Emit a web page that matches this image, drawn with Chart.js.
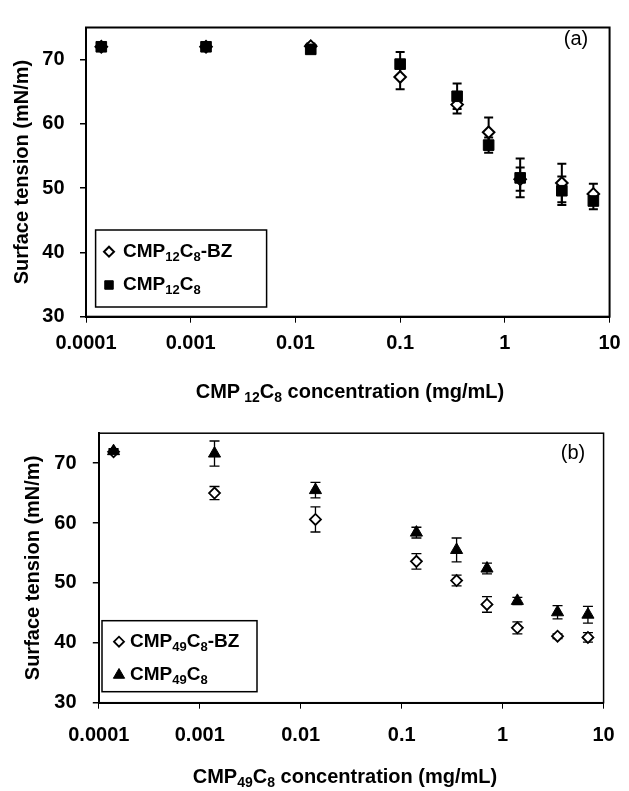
<!DOCTYPE html>
<html>
<head>
<meta charset="utf-8">
<script src="https://cdn.jsdelivr.net/npm/chart.js@4.4.1/dist/chart.umd.min.js"></script>
<style>
  body { margin: 0; background: #fff; }
  canvas { display: block; }
</style>
</head>
<body>
<canvas id="chart-a" width="629" height="405"></canvas>
<canvas id="chart-b" width="629" height="386"></canvas>
<script>
// panel (a) - CMP12C8
const concA = [0.00014, 0.0014, 0.014, 0.1, 0.35, 0.7, 1.4, 3.5, 7];
const bz12 = [72.0, 72.0, 72.1, 67.3, 63.0, 58.7, 51.4, 50.8, 49.1];
const bz12Err = [0.4, 0.4, 0.4, 1.9, 1.4, 2.3, 1.8, 3.0, 1.6];
const cmp12 = [72.0, 72.0, 71.6, 69.3, 64.3, 56.7, 51.6, 49.6, 48.0];
const cmp12Err = [0.4, 0.4, 0.4, 1.9, 2.0, 1.2, 3.0, 2.2, 1.3];

// panel (b) - CMP49C8
const concB = [0.00014, 0.0014, 0.014, 0.14, 0.35, 0.7, 1.4, 3.5, 7];
const bz49 = [71.9, 65.0, 60.6, 53.6, 50.4, 46.4, 42.5, 41.1, 40.9];
const bz49Err = [0.4, 1.1, 2.1, 1.3, 0.9, 1.3, 1.0, 0.4, 0.8];
const cmp49 = [72.0, 71.6, 65.5, 58.4, 55.5, 52.4, 47.0, 45.1, 44.7];
const cmp49Err = [0.4, 2.1, 1.3, 0.9, 2.0, 0.9, 0.6, 1.1, 1.4];

const xTicks = [0.0001, 0.001, 0.01, 0.1, 1, 10];
const xTickLabels = ['0.0001', '0.001', '0.01', '0.1', '1', '10'];
const yTicks = [30, 40, 50, 60, 70];

const FONT = "'Liberation Sans', Arial, sans-serif";

function points(xs, ys) {
    return xs.map((x, i) => ({ x: x, y: ys[i] }));
}

// error bars under the markers
const errorBars = {
    id: 'errorBars',
    beforeDatasetsDraw(chart, args, opts) {
        const ctx = chart.ctx;
        const y = chart.scales.y;
        ctx.save();
        ctx.strokeStyle = '#000';
        ctx.lineWidth = opts.width;
        chart.data.datasets.forEach((ds, i) => {
            const meta = chart.getDatasetMeta(i);
            meta.data.forEach((pt, j) => {
                const v = ds.data[j].y, e = ds.errors[j];
                const top = y.getPixelForValue(v + e);
                const bot = y.getPixelForValue(v - e);
                ctx.beginPath();
                ctx.moveTo(pt.x, top); ctx.lineTo(pt.x, bot);
                ctx.moveTo(pt.x - opts.cap, top); ctx.lineTo(pt.x + opts.cap, top);
                ctx.moveTo(pt.x - opts.cap, bot); ctx.lineTo(pt.x + opts.cap, bot);
                ctx.stroke();
            });
        });
        ctx.restore();
    }
};

// text with _{sub} parts
function richWidth(ctx, str, size) {
    let w = 0;
    str.split(/(_\{[^}]*\})/).filter(s => s).forEach(p => {
        const sub = p.startsWith('_{');
        const t = sub ? p.slice(2, -1) : p;
        ctx.font = 'bold ' + (sub ? Math.round(size * 0.68) : size) + 'px ' + FONT;
        w += ctx.measureText(t).width;
    });
    return w;
}

function richText(ctx, str, x, y, size) {
    const parts = str.split(/(_\{[^}]*\})/).filter(s => s);
    parts.forEach(p => {
        const sub = p.startsWith('_{');
        const t = sub ? p.slice(2, -1) : p;
        ctx.font = 'bold ' + (sub ? Math.round(size * 0.68) : size) + 'px ' + FONT;
        ctx.fillText(t, x, sub ? y + size * 0.3 : y);
        x += ctx.measureText(t).width;
    });
}

const panelDecor = {
    id: 'panelDecor',
    afterDraw(chart, args, opts) {
        const ctx = chart.ctx;
        const a = chart.chartArea;
        ctx.save();
        ctx.strokeStyle = '#000';
        ctx.lineWidth = opts.frame;
        ctx.strokeRect(a.left, a.top, a.right - a.left, a.bottom - a.top);

        // panel letter
        ctx.fillStyle = '#000';
        ctx.font = '20px ' + FONT;
        ctx.textAlign = 'center';
        ctx.textBaseline = 'middle';
        ctx.fillText(opts.letter, opts.letterX, opts.letterY);

        // x axis title with real subscripts
        ctx.textAlign = 'left';
        const tw = richWidth(ctx, opts.xTitle, 20);
        richText(ctx, opts.xTitle, opts.xTitleX - tw / 2, opts.xTitleY, 20);

        // legend box
        const b = opts.box;
        ctx.fillStyle = '#fff';
        ctx.fillRect(b.x, b.y, b.w, b.h);
        ctx.lineWidth = 1.5;
        ctx.strokeRect(b.x, b.y, b.w, b.h);
        chart.data.datasets.forEach((ds, i) => {
            const ry = b.rows[i];
            ctx.save();
            ctx.fillStyle = ds.backgroundColor;
            ctx.strokeStyle = ds.borderColor;
            ctx.lineWidth = ds.borderWidth;
            Chart.helpers.drawPoint(ctx, {
                pointStyle: ds.pointStyle, radius: ds.legendRadius,
                rotation: 0, borderWidth: ds.borderWidth
            }, b.markerX, ry);
            ctx.restore();
            ctx.fillStyle = '#000';
            richText(ctx, ds.richLabel, b.textX, ry, 19);
        });
        ctx.restore();
    }
};

function makeChart(id, cfg) {
    return new Chart(document.getElementById(id), {
        type: 'scatter',
        data: { datasets: cfg.datasets },
        options: {
            responsive: false,
            animation: false,
            events: [],
            layout: { padding: cfg.padding },
            plugins: {
                legend: { display: false },
                tooltip: { enabled: false },
                errorBars: cfg.errorBars,
                panelDecor: cfg.decor
            },
            scales: {
                x: {
                    type: 'logarithmic',
                    min: 0.0001,
                    max: 10,
                    afterBuildTicks: s => { s.ticks = xTicks.map(v => ({ value: v })); },
                    afterFit: s => { s.height = cfg.xHeight; },
                    ticks: {
                        color: '#000',
                        padding: cfg.xTickPad,
                        maxRotation: 0,
                        font: { family: FONT, size: 20, weight: 'bold' },
                        callback: (v, i) => xTickLabels[i]
                    },
                    grid: { drawOnChartArea: false, tickLength: 6, color: '#000', lineWidth: 1 },
                    border: { color: '#000', width: 2 }
                },
                y: {
                    min: 30,
                    max: 75,
                    afterBuildTicks: s => { s.ticks = yTicks.map(v => ({ value: v })); },
                    afterFit: s => { s.width = cfg.yWidth; },
                    ticks: {
                        color: '#000',
                        padding: cfg.yTickPad,
                        font: { family: FONT, size: 20, weight: 'bold' }
                    },
                    grid: { drawOnChartArea: false, tickLength: 6, color: '#000', lineWidth: 1.5 },
                    border: { color: '#000', width: 2 },
                    title: {
                        display: true,
                        text: 'Surface tension (mN/m)',
                        color: '#000',
                        padding: { top: cfg.yTitlePad, bottom: 0 },
                        font: { family: FONT, size: 20, weight: 'bold' }
                    }
                }
            }
        },
        plugins: [errorBars, panelDecor]
    });
}

makeChart('chart-a', {
    padding: { top: 12.5, right: 11, left: 0, bottom: 0 },
    xHeight: 88.3, xTickPad: 8.3,
    yWidth: 86, yTickPad: 15.5, yTitlePad: 10,
    errorBars: { width: 2, cap: 4.5 },
    decor: {
        frame: 2, letter: '(a)', letterX: 576, letterY: 39,
        xTitle: 'CMP\u2009_{12}C_{8} concentration (mg/mL)', xTitleX: 350, xTitleY: 392,
        box: { x: 95.6, y: 230, w: 171, h: 77, markerX: 109, textX: 123, rows: [251.7, 285] }
    },
    datasets: [
        {
            label: 'CMP\u2081\u2082C\u2088-BZ', richLabel: 'CMP_{12}C_{8}-BZ',
            data: points(concA, bz12), errors: bz12Err, order: 2,
            pointStyle: 'rectRot', pointRadius: 5.8, legendRadius: 5,
            backgroundColor: '#fff', borderColor: '#000', borderWidth: 2
        },
        {
            label: 'CMP\u2081\u2082C\u2088', richLabel: 'CMP_{12}C_{8}',
            data: points(concA, cmp12), errors: cmp12Err, order: 1,
            pointStyle: 'rect', pointRadius: 7.5, legendRadius: 6,
            backgroundColor: '#000', borderColor: '#000', borderWidth: 1
        }
    ]
});

makeChart('chart-b', {
    padding: { top: 16.7, right: 19, left: 0, bottom: 0 },
    xHeight: 88.3, xTickPad: 14.3,
    yWidth: 98.8, yTickPad: 16.2, yTitlePad: 21,
    errorBars: { width: 1.3, cap: 5 },
    decor: {
        frame: 1.5, letter: '(b)', letterX: 573, letterY: 48.3,
        xTitle: 'CMP_{49}C_{8} concentration (mg/mL)', xTitleX: 345, xTitleY: 372,
        box: { x: 102, y: 215.7, w: 155, h: 71, markerX: 119, textX: 130, rows: [236.7, 270] }
    },
    datasets: [
        {
            label: 'CMP\u2084\u2089C\u2088-BZ', richLabel: 'CMP_{49}C_{8}-BZ',
            data: points(concB, bz49), errors: bz49Err, order: 2,
            pointStyle: 'rectRot', pointRadius: 5.5, legendRadius: 5,
            backgroundColor: '#fff', borderColor: '#000', borderWidth: 1.8
        },
        {
            label: 'CMP\u2084\u2089C\u2088', richLabel: 'CMP_{49}C_{8}',
            data: points(concB, cmp49), errors: cmp49Err, order: 1,
            pointStyle: 'triangle', pointRadius: 7, legendRadius: 6.5,
            backgroundColor: '#000', borderColor: '#000', borderWidth: 1
        }
    ]
});
</script>
</body>
</html>
